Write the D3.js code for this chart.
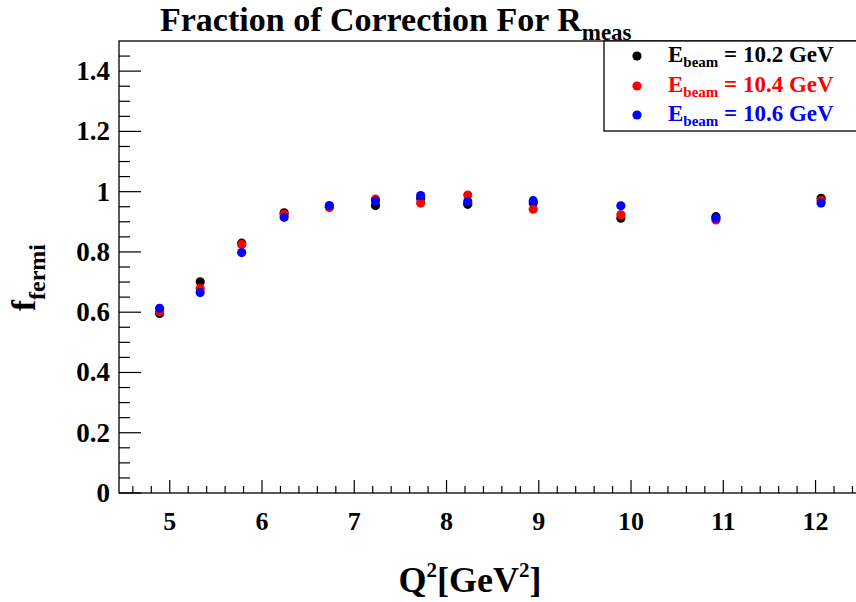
<!DOCTYPE html>
<html>
<head>
<meta charset="utf-8">
<script src="https://cdn.jsdelivr.net/npm/d3@7"></script>
<style>
  body { margin: 0; background: #fff; }
  svg { display: block; }
  text { font-family: "Liberation Serif", "DejaVu Serif", serif; font-weight: bold; }
</style>
</head>
<body>
<div id="chart"></div>
<script>
// Q^2 bin centres
var q2 = [4.89, 5.33, 5.78, 6.24, 6.73, 7.23, 7.72, 8.23, 8.94, 9.89, 10.92, 12.06];

// f_fermi per beam energy
var f102 = [0.596, 0.701, 0.829, 0.930, 0.949, 0.954, 0.977, 0.958, 0.962, 0.912, 0.917, 0.978];
var f104 = [0.602, 0.679, 0.825, 0.925, 0.948, 0.975, 0.962, 0.989, 0.942, 0.923, 0.906, 0.970];
var f106 = [0.613, 0.665, 0.798, 0.915, 0.954, 0.969, 0.987, 0.967, 0.970, 0.953, 0.912, 0.962];

var seriesNames = ["10.2", "10.4", "10.6"];
var seriesColors = ["#000000", "#ff0000", "#0000ff"];
var seriesValues = [f102, f104, f106];

var xTicks = [5, 6, 7, 8, 9, 10, 11, 12];
var yTicks = [0, 0.2, 0.4, 0.6, 0.8, 1, 1.2, 1.4];

var W = 856, H = 602;
var frame = {left: 119, right: 858, top: 41, bottom: 493};

var x = d3.scaleLinear().domain([4.45, 12.46]).range([frame.left, frame.right]);
var y = d3.scaleLinear().domain([0, 1.5]).range([frame.bottom, frame.top]);

var svg = d3.select("#chart").append("svg")
    .attr("width", W)
    .attr("height", H);

// frame
svg.append("rect")
    .attr("x", frame.left)
    .attr("y", frame.top)
    .attr("width", frame.right - frame.left)
    .attr("height", frame.bottom - frame.top)
    .attr("fill", "none")
    .attr("stroke", "#000")
    .attr("stroke-width", 1.3);

// x ticks, drawn inward like ROOT
var xMinor = d3.range(4.6, 12.45, 0.2).filter(function(v) {
    return Math.abs(v - Math.round(v)) > 0.01;
});
svg.append("g").selectAll("line.xmin").data(xMinor).enter().append("line")
    .attr("x1", function(d) { return x(d); })
    .attr("x2", function(d) { return x(d); })
    .attr("y1", frame.bottom)
    .attr("y2", frame.bottom - 7)
    .attr("stroke", "#000").attr("stroke-width", 1.2);
svg.append("g").selectAll("line.xmaj").data(xTicks).enter().append("line")
    .attr("x1", function(d) { return x(d); })
    .attr("x2", function(d) { return x(d); })
    .attr("y1", frame.bottom)
    .attr("y2", frame.bottom - 13)
    .attr("stroke", "#000").attr("stroke-width", 1.2);
svg.append("g").selectAll("text").data(xTicks).enter().append("text")
    .attr("x", function(d) { return x(d); })
    .attr("y", 530)
    .attr("text-anchor", "middle")
    .attr("font-size", 26)
    .text(function(d) { return d; });

// y ticks
var yMinor = d3.range(0.05, 1.5, 0.05).filter(function(v) {
    return Math.abs(v * 5 - Math.round(v * 5)) > 0.01;
});
svg.append("g").selectAll("line").data(yMinor).enter().append("line")
    .attr("x1", frame.left)
    .attr("x2", frame.left + 11)
    .attr("y1", function(d) { return y(d); })
    .attr("y2", function(d) { return y(d); })
    .attr("stroke", "#000").attr("stroke-width", 1.2);
svg.append("g").selectAll("line").data(yTicks).enter().append("line")
    .attr("x1", frame.left)
    .attr("x2", frame.left + 22)
    .attr("y1", function(d) { return y(d); })
    .attr("y2", function(d) { return y(d); })
    .attr("stroke", "#000").attr("stroke-width", 1.2);
svg.append("g").selectAll("text").data(yTicks).enter().append("text")
    .attr("x", 110)
    .attr("y", function(d) { return y(d) + 9; })
    .attr("text-anchor", "end")
    .attr("font-size", 27)
    .text(function(d) { return d; });

// points: black, red, then blue on top
seriesValues.forEach(function(vals, si) {
    svg.append("g").selectAll("circle").data(vals).enter().append("circle")
        .attr("cx", function(d, i) { return x(q2[i]); })
        .attr("cy", function(d) { return y(d); })
        .attr("r", 4.6)
        .attr("fill", seriesColors[si]);
});

// title
var title = svg.append("text")
    .attr("x", 160)
    .attr("y", 31)
    .attr("font-size", 34);
title.append("tspan").text("Fraction of Correction For R");
title.append("tspan").attr("font-size", 23).attr("dy", 9).text("meas");

// legend box, drawn over the title subscript
var lx = 604, ly = 41;
svg.append("rect")
    .attr("x", lx)
    .attr("y", ly)
    .attr("width", 270)
    .attr("height", 90)
    .attr("fill", "#fff")
    .attr("stroke", "#000")
    .attr("stroke-width", 1.3);

var rowY = [56, 86, 115];
seriesNames.forEach(function(name, i) {
    svg.append("circle")
        .attr("cx", 637)
        .attr("cy", rowY[i])
        .attr("r", 4.6)
        .attr("fill", seriesColors[i]);
    var t = svg.append("text")
        .attr("x", 668)
        .attr("y", rowY[i] + 6)
        .attr("font-size", 23)
        .attr("fill", seriesColors[i]);
    t.append("tspan").text("E");
    t.append("tspan").attr("font-size", 15).attr("dy", 5).text("beam");
    t.append("tspan").attr("dy", -5).text(" = " + name + " GeV");
});

// axis titles
var xt = svg.append("text")
    .attr("x", 470)
    .attr("y", 592)
    .attr("text-anchor", "middle")
    .attr("font-size", 36);
xt.append("tspan").text("Q");
xt.append("tspan").attr("font-size", 21).attr("dy", -15).text("2");
xt.append("tspan").attr("dy", 15).text("[GeV");
xt.append("tspan").attr("font-size", 21).attr("dy", -15).text("2");
xt.append("tspan").attr("dy", 15).text("]");

var yt = svg.append("text")
    .attr("transform", "translate(35,311) rotate(-90)")
    .attr("font-size", 33);
yt.append("tspan").text("f");
yt.append("tspan").attr("font-size", 24).attr("dy", 10).text("fermi");
</script>
</body>
</html>
